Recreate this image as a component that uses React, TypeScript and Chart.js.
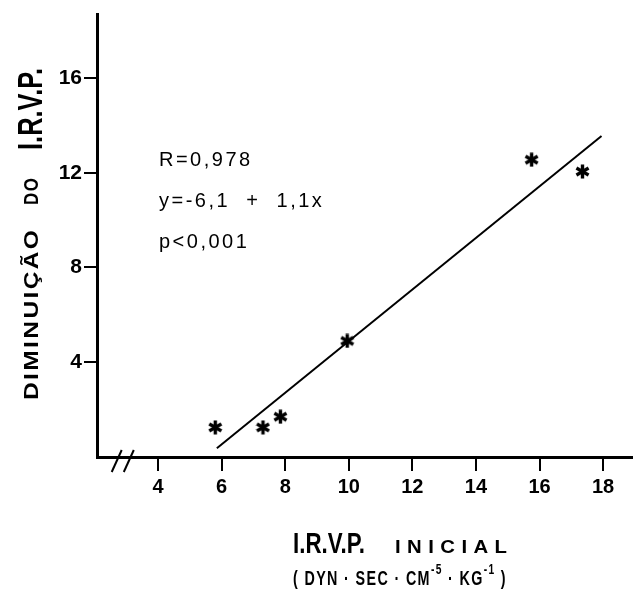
import React, { useEffect, useRef } from "react";
import { Chart, registerables } from "chart.js";

Chart.register(...registerables);

// ---- data ----
const xValues = [5.8, 7.3, 7.85, 9.95, 15.75, 17.35];
const yValues = [1.25, 1.25, 1.7, 4.9, 12.55, 12.05];
const fitX = [5.85, 17.95];
const fitY = [0.37, 13.55];
const xTicks = [4, 6, 8, 10, 12, 14, 16, 18];
const yTicks = [4, 8, 12, 16];
const statLines = ["R=0,978", "y=-6,1  +  1,1x", "p<0,001"];
const yTitleParts = ["DIMINUIÇÃO", "DO", "I.R.V.P."];
const xTitleMain = "I.R.V.P.";
const xTitleSub = "INICIAL";
const unitParts: [string, boolean][] = [
  ["( DYN · SEC · CM", false],
  ["-5", true],
  [" · KG", false],
  ["-1", true],
  [" )", false],
];
const xMin = 2.08;
const xMax = 18.94;
const yMin = 0;
const yMax = 18.7;

const FONT = "'Liberation Sans', Arial, Helvetica, sans-serif";

function makeStar(size: number, lw: number): HTMLCanvasElement {
  const c = document.createElement("canvas");
  c.width = size;
  c.height = size;
  const ctx = c.getContext("2d")!;
  ctx.strokeStyle = "#000";
  ctx.lineWidth = lw;
  const r = size / 2 - 0.5;
  const m = size / 2;
  for (let i = 0; i < 3; i++) {
    const a = Math.PI / 2 + (i * Math.PI) / 3;
    ctx.beginPath();
    ctx.moveTo(m + r * Math.cos(a), m + r * Math.sin(a));
    ctx.lineTo(m - r * Math.cos(a), m - r * Math.sin(a));
    ctx.stroke();
  }
  return c;
}

const decorPlugin = {
  id: "decor",
  afterDraw(chart: any) {
    const ctx: CanvasRenderingContext2D = chart.ctx;
    const xs = chart.scales.x;
    ctx.save();
    ctx.fillStyle = "#000";
    ctx.strokeStyle = "#000";

    // axis break marks
    ctx.lineWidth = 2;
    const axisY = chart.chartArea.bottom;
    const bx = [xs.getPixelForValue(2.7), xs.getPixelForValue(3.08)];
    for (const b of bx) {
      ctx.beginPath();
      ctx.moveTo(b - 5, axisY + 15);
      ctx.lineTo(b + 5, axisY - 7);
      ctx.stroke();
    }

    // statistics text
    ctx.font = `20px ${FONT}`;
    (ctx as any).letterSpacing = "2.5px";
    ctx.textAlign = "left";
    ctx.textBaseline = "alphabetic";
    const baseY = [166, 207, 248];
    statLines.forEach((t, i) => ctx.fillText(t, 159, baseY[i]));

    // y title (rotated)
    const drawRot = (text: string, font: string, spacing: number, bx0: number, startY: number, targetLen: number) => {
      ctx.save();
      ctx.translate(bx0, startY);
      ctx.rotate(-Math.PI / 2);
      ctx.font = font;
      (ctx as any).letterSpacing = spacing + "px";
      const w = ctx.measureText(text).width - spacing;
      ctx.scale(targetLen / w, 1);
      ctx.fillText(text, 0, 0);
      ctx.restore();
    };
    drawRot(yTitleParts[0], `bold 21px ${FONT}`, 2, 38, 400, 170);
    drawRot(yTitleParts[1], `bold 21px ${FONT}`, 2, 38, 205, 27);
    drawRot(yTitleParts[2], `bold 35px ${FONT}`, 0, 42, 150, 82);

    // x title
    const drawFit = (text: string, font: string, spacing: number, x0: number, base: number, targetLen: number) => {
      ctx.save();
      ctx.font = font;
      (ctx as any).letterSpacing = spacing + "px";
      const w = ctx.measureText(text).width - spacing;
      ctx.translate(x0, base);
      ctx.scale(targetLen / w, 1);
      ctx.fillText(text, 0, 0);
      ctx.restore();
    };
    drawFit(xTitleMain, `bold 29px ${FONT}`, 0, 293, 553, 72);
    drawFit(xTitleSub, `bold 19px ${FONT}`, 6, 395, 553, 112);

    // units line
    ctx.save();
    const normFont = `bold 21px ${FONT}`;
    const supFont = `bold 15px ${FONT}`;
    (ctx as any).letterSpacing = "2px";
    let total = 0;
    for (const [t, sup] of unitParts) {
      ctx.font = sup ? supFont : normFont;
      total += ctx.measureText(t).width;
    }
    const s = 214 / total;
    ctx.translate(293, 585);
    ctx.scale(s, 1);
    let cx = 0;
    for (const [t, sup] of unitParts) {
      ctx.font = sup ? supFont : normFont;
      ctx.fillText(t, cx, sup ? -11 : 0);
      cx += ctx.measureText(t).width;
    }
    ctx.restore();

    ctx.restore();
  },
};

export default function App() {
  const ref = useRef<HTMLCanvasElement>(null);

  useEffect(() => {
    if (!ref.current) return;
    const star = makeStar(15, 3.4);
    const chart = new Chart(ref.current, {
      type: "scatter",
      data: {
        datasets: [
          {
            label: "pontos",
            data: xValues.map((x, i) => ({ x, y: yValues[i] })),
            pointStyle: star as any,
            pointRadius: 7,
            borderColor: "#000",
            backgroundColor: "#000",
          },
          {
            label: "regressão",
            data: fitX.map((x, i) => ({ x, y: fitY[i] })),
            showLine: true,
            borderColor: "#000",
            borderWidth: 2,
            pointRadius: 0,
          },
        ],
      },
      options: {
        responsive: false,
        animation: false,
        devicePixelRatio: 1,
        layout: { autoPadding: false, padding: { top: 14, right: 0, left: 0, bottom: 0 } },
        plugins: {
          legend: { display: false },
          tooltip: { enabled: false },
          title: { display: false },
        },
        scales: {
          x: {
            type: "linear",
            min: xMin,
            max: xMax,
            afterBuildTicks: (scale: any) => {
              scale.ticks = xTicks.map((v) => ({ value: v }));
            },
            afterFit: (scale: any) => {
              scale.height = 134;
              scale.paddingLeft = 0;
              scale.paddingRight = 0;
            },
            grid: {
              display: true,
              drawOnChartArea: false,
              drawTicks: true,
              tickLength: 14,
              color: "#000",
              lineWidth: 2,
            },
            border: { display: true, color: "#000", width: 3 },
            ticks: {
              color: "#000",
              font: { family: FONT, size: 20, weight: "bold" },
              padding: 4,
              maxRotation: 0,
              autoSkip: false,
            },
          },
          y: {
            type: "linear",
            min: yMin,
            max: yMax,
            afterBuildTicks: (scale: any) => {
              scale.ticks = yTicks.map((v) => ({ value: v }));
            },
            afterFit: (scale: any) => {
              scale.width = 97;
              scale.paddingTop = 0;
              scale.paddingBottom = 0;
            },
            grid: {
              display: true,
              drawOnChartArea: false,
              drawTicks: true,
              tickLength: 13,
              color: "#000",
              lineWidth: 2,
            },
            border: { display: true, color: "#000", width: 3 },
            ticks: {
              color: "#000",
              font: { family: FONT, size: 21, weight: "bold" },
              padding: 2,
              autoSkip: false,
            },
          },
        },
      },
      plugins: [decorPlugin],
    });
    return () => chart.destroy();
  }, []);

  return (
    <div style={{ position: "fixed", left: 0, top: 0, width: 633, height: 591, background: "#fff" }}>
      <canvas ref={ref} width={633} height={591} style={{ display: "block" }} />
    </div>
  );
}
